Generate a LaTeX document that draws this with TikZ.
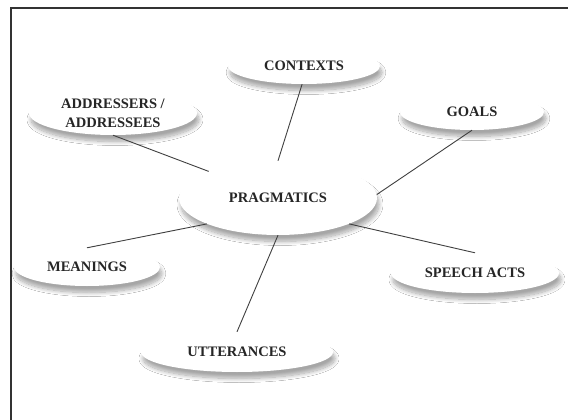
\documentclass[tikz,border=0pt]{standalone}
\usepackage{fontspec}
\setmainfont{Liberation Serif}
\usetikzlibrary{shapes.geometric,shadows.blur}
\tikzset{
  bub/.style={ellipse, fill=white, inner sep=0pt,
    blur shadow={shadow xshift=2pt, shadow yshift=-6.5pt, shadow blur radius=4pt, shadow opacity=35, shadow blur steps=12}},
  txt/.style={font=\fontsize{14.5}{19}\selectfont\bfseries, text=black!85, align=center, inner sep=0pt},
  link/.style={draw=black!75, line width=0.9pt},
  frame/.style={draw=black!80, line width=2pt}
}
\begin{document}
\begin{tikzpicture}[x=1pt,y=-1pt]
\useasboundingbox (0,0) rectangle (568,420);
\fill[white] (0,0) rectangle (568,420);
\coordinate (fbl) at (11,421);
\coordinate (ftl) at (11,8);
\coordinate (ftr) at (569,8);
\draw[frame] (fbl) -- (ftl) -- (ftr);

\node[bub, minimum width=152pt, minimum height=36pt, label={[txt]center:CONTEXTS}] (ctx) at (304,66) {};
\node[bub, minimum width=168pt, minimum height=44pt, label={[txt]center:ADDRESSERS /\\ADDRESSEES}] (addr) at (113,113) {};
\node[bub, minimum width=144pt, minimum height=36pt, label={[txt]center:GOALS}] (goals) at (472,112) {};
\node[bub, minimum width=198pt, minimum height=74pt, label={[txt]center:PRAGMATICS}] (prag) at (278,198) {};
\node[bub, minimum width=146pt, minimum height=38pt, label={[txt]center:MEANINGS}] (mean) at (87,267) {};
\node[bub, minimum width=168pt, minimum height=40pt, label={[txt]center:SPEECH ACTS}] (speech) at (475,273) {};
\node[bub, minimum width=192pt, minimum height=40pt, label={[txt]center:UTTERANCES}] (utt) at (237,352) {};

\draw[link] (addr.south) -- (prag.159);
\draw[link] (ctx.264) -- (prag.90);
\draw[link] (goals.south) -- (prag.2);
\draw[link] (mean.north) -- (prag.200);
\draw[link] (speech.north) -- (prag.340);
\draw[link] (utt.north) -- (prag.270);
\end{tikzpicture}
\end{document}
